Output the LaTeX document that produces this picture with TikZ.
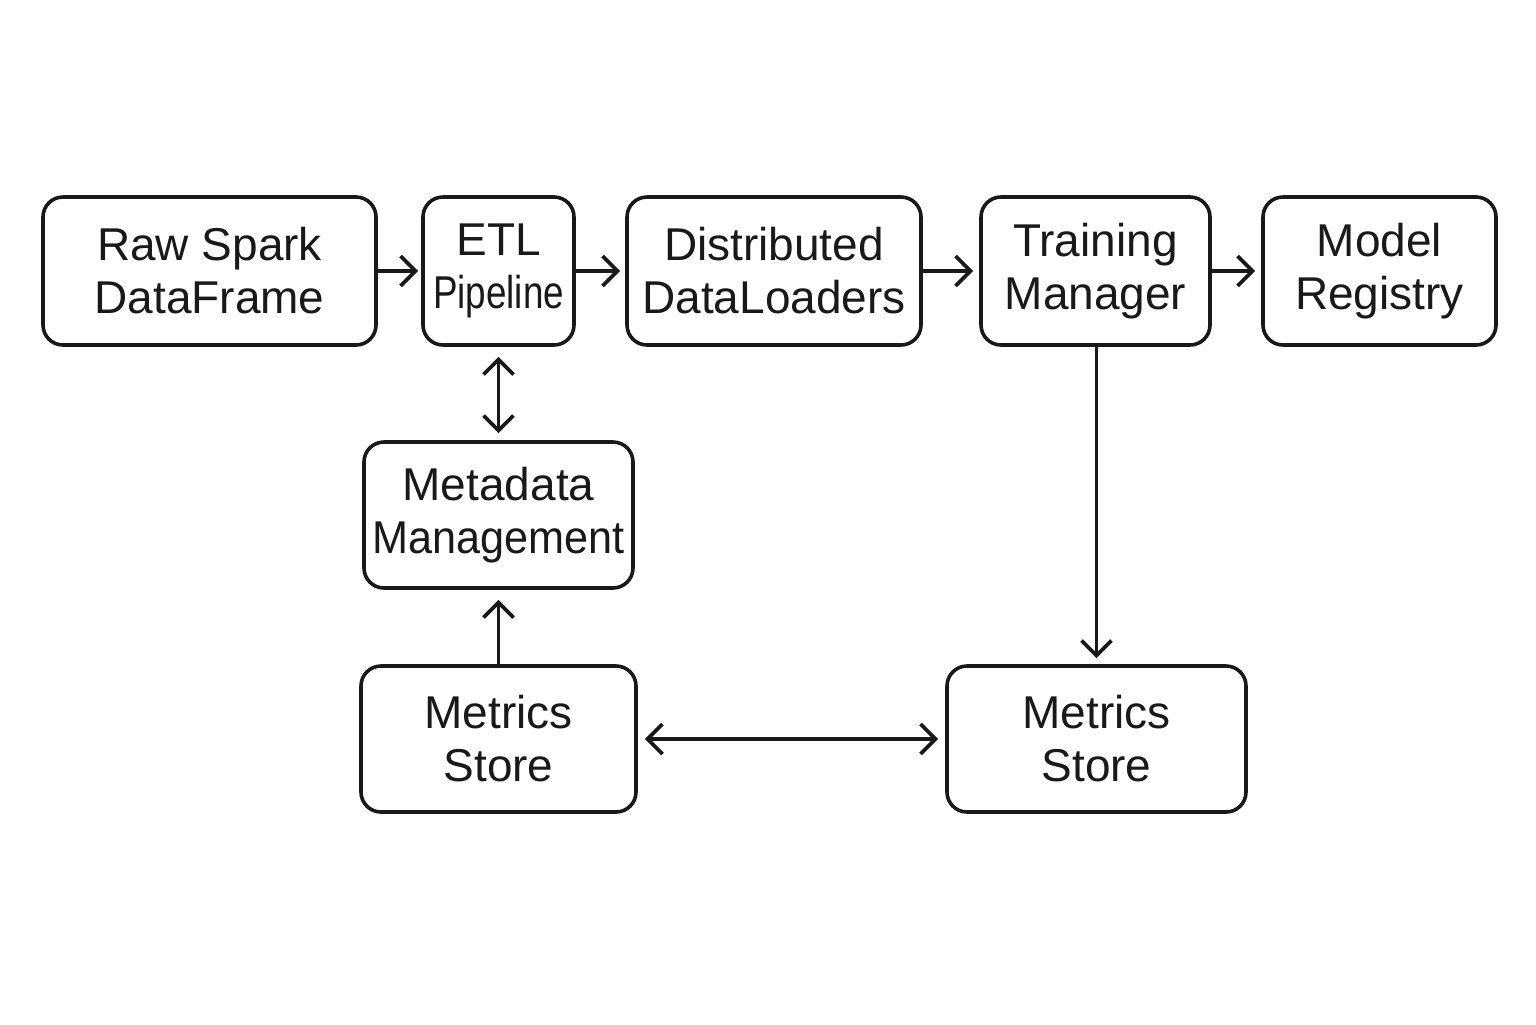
\documentclass[tikz,border=0pt]{standalone}
\usepackage{fontspec}
\setmainfont{Liberation Sans}
\usetikzlibrary{arrows.meta}
\begin{document}
\begin{tikzpicture}[x=0.5pt,y=-0.5pt,
  box/.style={draw=black!90, line width=1.8pt, rounded corners=10pt, align=center,
    inner sep=0pt, minimum height=74pt, font=\fontsize{23}{26.5}\selectfont, text=black!90},
  conn/.style={line width=1.9pt, draw=black!90, -{Straight Barb[length=7.5pt,width=15pt,line width=1.9pt]}},
  biconn/.style={line width=1.9pt, draw=black!90, {Straight Barb[length=7.5pt,width=15pt,line width=1.9pt]}-{Straight Barb[length=7.5pt,width=15pt,line width=1.9pt]}}]
\useasboundingbox (0,0) rectangle (1536,1024);
\node[box, minimum width=166.5pt] (raw) at (209.5,271) {Raw Spark\\DataFrame};
\node[box, minimum width=75.5pt] (etl) at (498.5,271) {ETL\\\scalebox{0.8}[1]{Pipeline}};
\node[box, minimum width=147pt] (dist) at (774,271) {Distributed\\DataLoaders};
\node[box, minimum width=114.5pt] (train) at (1095.5,271) {Training\\Manager};
\node[box, minimum width=116.5pt] (reg) at (1379.5,271) {Model\\Registry};
\node[box, minimum width=134.5pt, minimum height=73pt] (meta) at (498.5,515) {Metadata\\\scalebox{0.94}[1]{Management}};
\node[box, minimum width=137.5pt, minimum height=73pt] (msl) at (498.5,739) {Metrics\\Store};
\node[box, minimum width=149.5pt, minimum height=73pt] (msr) at (1096.5,739) {Metrics\\Store};
\draw[conn, shorten >=1.5pt] (raw) -- (etl);
\draw[conn, shorten >=2.5pt] (etl) -- (dist);
\draw[conn, shorten >=3pt] (dist) -- (train);
\draw[conn, shorten >=3pt] (train) -- (reg);
\draw[biconn, shorten >=3.5pt, shorten <=5pt] (etl) -- (meta);
\draw[conn, shorten >=5pt] (msl) -- (meta);
\draw[conn, shorten >=3pt] (train.south -| msr.north) -- (msr.north);
\draw[biconn, shorten >=3.5pt, shorten <=3.5pt] (msl) -- (msr);
\end{tikzpicture}
\end{document}
